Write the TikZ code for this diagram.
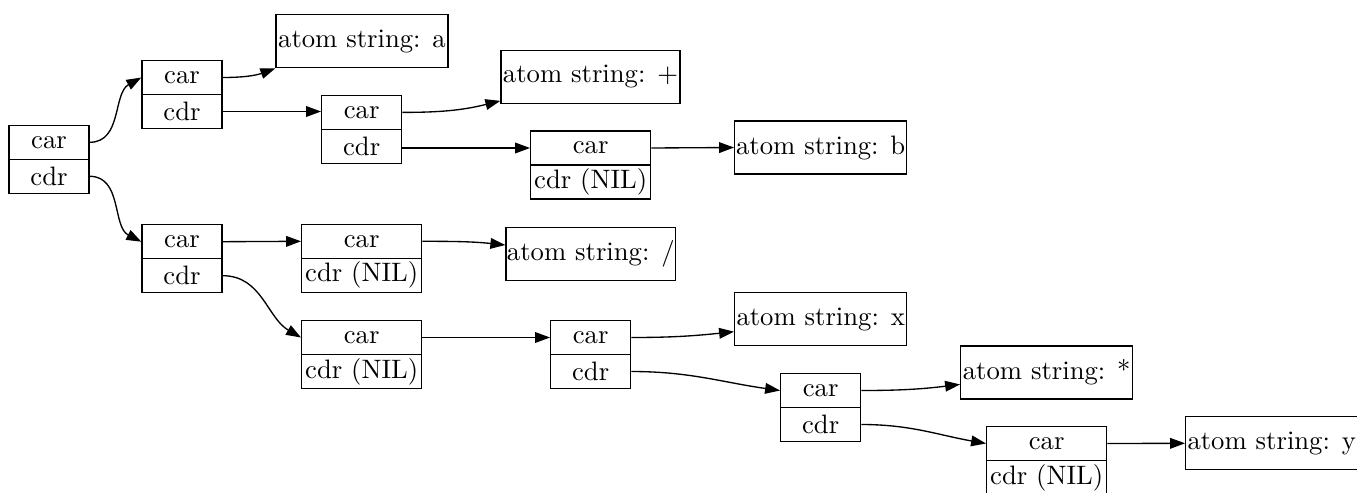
\documentclass[tikz,border=0pt]{standalone}
\usetikzlibrary{arrows.meta,calc}
\newdimen\px
\px=0.375pt
\begin{document}
\begin{tikzpicture}[x=0.375pt,y=-0.375pt,
  cell/.style={draw,line width=0.5pt,inner sep=0pt,minimum height=34\px,
    minimum width=80\px,font=\fontsize{10}{12}\selectfont},
  wcell/.style={cell,minimum width=120\px},
  atom/.style={draw,line width=0.5pt,inner sep=1\px,minimum height=53\px,
    minimum width=172\px,font=\fontsize{10}{12}\selectfont},
  link/.style={line width=0.5pt,-{Triangle[length=5.6pt,width=4pt]}}]
\useasboundingbox (0,0) rectangle (1357,492);
\clip (0,0) rectangle (1357,492);

% cons cells: car field on top, cdr field below
\node[cell]  (r0car) at (49,142.3) {car};
\node[cell]  (r0cdr) at (49,176.3) {cdr};
\node[cell]  (r1car) at (182,77.5) {car};
\node[cell]  (r1cdr) at (182,111.5) {cdr};
\node[cell]  (r2car) at (182,241.7) {car};
\node[cell]  (r2cdr) at (182,275.7) {cdr};
\node[cell]  (r3car) at (361.7,112.4) {car};
\node[cell]  (r3cdr) at (361.7,146.4) {cdr};
\node[wcell] (r4car) at (590.7,148) {car};
\node[wcell] (r4cdr) at (590.7,182) {cdr (NIL)};
\node[wcell] (r5car) at (361.7,241.3) {car};
\node[wcell] (r5cdr) at (361.7,275.3) {cdr (NIL)};
\node[wcell] (r6car) at (361.7,337.5) {car};
\node[wcell] (r6cdr) at (361.7,371.5) {cdr (NIL)};
\node[cell]  (r7car) at (590.7,337.5) {car};
\node[cell]  (r7cdr) at (590.7,371.5) {cdr};
\node[cell]  (r8car) at (820.7,390.5) {car};
\node[cell]  (r8cdr) at (820.7,424.5) {cdr};
\node[wcell] (r9car) at (1046.7,443.5) {car};
\node[wcell] (r9cdr) at (1046.7,477.5) {cdr (NIL)};

% atoms
\node[atom] (atA) at (362,41.2) {atom string: a};
\node[atom,minimum width=179\px] (atP) at (590.5,76.7) {atom string: +};
\node[atom] (atB) at (820.7,147.5) {atom string: b};
\node[atom,minimum width=167\px] (atS) at (590.8,254) {atom string: /};
\node[atom] (atX) at (820.7,319.2) {atom string: x};
\node[atom] (atM) at (1046.7,372.4) {atom string: *};
\node[atom] (atY) at (1271.7,443.3) {atom string: y};

% pointers
\draw[link] (r0car.east) to[out=0,in=209] (r1car.west);
\draw[link] (r0cdr.east) to[out=0,in=153] (r2car.west);
\draw[link] (r1car.east) to[out=0,in=200] (atA.south west);
\draw[link] (r1cdr.east) -- (r1cdr.east -| r3car.west);
\draw[link] (r3car.east) to[out=0,in=194] ($(atP.south west)+(0,-3)$);
\draw[link] (r3cdr.east |- r4car.west) -- (r4car.west);
\draw[link] (r4car.east) -- (atB.west);
\draw[link] (r2car.east) -- (r5car.west);
\draw[link] (r2cdr.east) to[out=0,in=150] (r6car.west);
\draw[link] (r5car.east) to[out=0,in=174] ($(atS.west)+(0,-9)$);
\draw[link] (r6car.east) -- (r7car.west);
\draw[link] (r7car.east) to[out=0,in=186] ($(atX.west)+(0,12.5)$);
\draw[link] (r7cdr.east) to[out=0,in=172] (r8car.west);
\draw[link] (r8car.east) to[out=0,in=187] ($(atM.west)+(0,12)$);
\draw[link] (r8cdr.east) to[out=0,in=170] (r9car.west);
\draw[link] (r9car.east) -- (atY.west);
\end{tikzpicture}
\end{document}
